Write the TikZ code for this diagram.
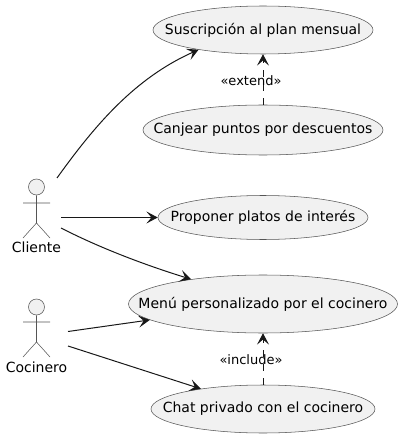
\documentclass[tikz,border=0pt]{standalone}
\usepackage{fontspec}
\setmainfont{DejaVu Sans}
\usetikzlibrary{shapes.geometric,arrows.meta}
\definecolor{ucfill}{HTML}{F1F1F1}
\definecolor{ucline}{HTML}{181818}
\definecolor{ucthin}{HTML}{555555}
\tikzset{
  usecase/.style={ellipse,draw=ucthin,fill=ucfill,line width=0.4pt,inner sep=0pt},
  uctext/.style={font=\fontsize{10.5pt}{12pt}\selectfont,text=black,inner sep=0pt},
  actorbody/.style={draw=ucthin,line width=0.4pt},
  actorhead/.style={circle,draw=ucthin,fill=ucfill,line width=0.4pt,inner sep=0pt,minimum size=12pt},
  actorlabel/.style={font=\fontsize{10.5pt}{12pt}\selectfont,text=black,inner sep=0pt},
  rel/.style={draw=ucline,line width=0.75pt,-{Stealth[length=8.5pt,width=9pt,inset=3.8pt]}},
  dep/.style={rel,dash pattern=on 5.25pt off 5.25pt},
  stereo/.style={font=\fontsize{9.75pt}{12pt}\selectfont,text=black,inner sep=0pt}
}
\begin{document}
\begin{tikzpicture}[x=0.75pt,y=-0.75pt]
\useasboundingbox (0,0) rectangle (402,438);
\node[usecase,minimum width=165pt,minimum height=36pt,label={[uctext]center:Suscripción al plan mensual}] (susc) at (263,30) {};
\node[usecase,minimum width=180pt,minimum height=37.5pt,label={[uctext]center:Canjear puntos por descuentos}] (canj) at (263,130) {};
\node[usecase,minimum width=157.5pt,minimum height=33pt,label={[uctext]center:Proponer platos de interés}] (prop) at (263,217.5) {};
\node[usecase,minimum width=201.75pt,minimum height=43.5pt,label={[uctext]center:Menú personalizado por el cocinero}] (menu) at (263,304) {};
\node[usecase,minimum width=168pt,minimum height=36pt,label={[uctext]center:Chat privado con el cocinero}] (chat) at (263,409) {};

\node[actorhead] (hcli) at (36.5,187) {};
\draw[actorbody] (hcli.south) -- (36.5,223) (23,203) -- (50,203) (23,238) -- (36.5,223) -- (50,238);
\node[actorlabel] (lcli) at (36.5,247) {Cliente};
\node[actorhead] (hcoc) at (36.5,307) {};
\draw[actorbody] (hcoc.south) -- (36.5,342) (23,322) -- (50,322) (23,357) -- (36.5,342) -- (50,357);
\node[actorlabel] (lcoc) at (36.5,367) {Cocinero};

\coordinate (c1) at (57,178);
\coordinate (c2) at (61,217.5);
\coordinate (c3) at (61,228);
\coordinate (k1) at (68,331.5);
\coordinate (k2) at (68,346);

\draw[rel] (c1) .. controls (95,125) and (135,78) .. (susc.197);
\draw[rel] (c2) -- (prop.west);
\draw[rel] (c3) .. controls (100,248) and (145,265) .. (menu.161.6);
\draw[rel] (k1) -- (menu.188.5);
\draw[rel] (k2) -- (chat.162);
\draw[dep] (canj.north) -- (susc.south);
\draw[dep] (chat.north) -- (menu.south);
\node[stereo] (ext) at (251,81) {«extend»};
\node[stereo] (inc) at (251,360) {«include»};
\end{tikzpicture}
\end{document}
